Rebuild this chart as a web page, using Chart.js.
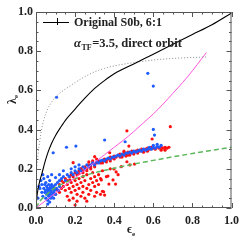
<!DOCTYPE html>
<html><head><meta charset="utf-8">
<script src="https://cdn.jsdelivr.net/npm/chart.js@4"></script>
<style>html,body{margin:0;padding:0;background:#fff}canvas{display:block}</style>
</head><body><div style="width:245px;height:245px"><canvas id="c" width="245" height="245"></canvas></div>
<script>
const xTickLabels = ["0.0","0.2","0.4","0.6","0.8","1.0"];
const yTickLabels = ["0.0","0.2","0.4","0.6","0.8","1.0"];
const legendLine1 = "Original S0b, 6:1";
const legendLine2 = ["α", "TF", "=3.5, direct orbit"];
const xTitle = ["ϵ", "e"];
const yTitle = ["λ", "e"];

const isoCurve = [[0,0],[0.005,0.06],[0.012,0.105],[0.02,0.14],[0.03,0.175],[0.046,0.235],[0.06,0.28],[0.08,0.33],[0.1,0.37],[0.125,0.41],[0.156,0.455],[0.2,0.505],[0.25,0.56],[0.3,0.61],[0.35,0.65],[0.4,0.685],[0.5,0.735],[0.6,0.785],[0.7,0.835],[0.8,0.885],[0.9,0.935],[1.0,0.995]];
const dottedCurve = [[0.003,0.2],[0.008,0.25],[0.015,0.31],[0.025,0.38],[0.04,0.45],[0.06,0.505],[0.08,0.54],[0.1,0.565],[0.12,0.585],[0.14,0.6],[0.17,0.62],[0.2,0.64],[0.25,0.67],[0.3,0.695],[0.35,0.712],[0.4,0.725],[0.5,0.742],[0.6,0.755],[0.7,0.763],[0.8,0.768],[0.87,0.77]];
const magentaCurve = [[0,0],[0.05,0.038],[0.1,0.077],[0.15,0.116],[0.2,0.155],[0.25,0.194],[0.3,0.233],[0.35,0.271],[0.4,0.31],[0.45,0.348],[0.5,0.39],[0.55,0.435],[0.6,0.48],[0.65,0.53],[0.7,0.585],[0.75,0.64],[0.8,0.7],[0.85,0.765],[0.872,0.793]];
const greenCurve = [[0,0],[0.02,0.035],[0.05,0.065],[0.1,0.105],[0.15,0.13],[0.2,0.15],[0.25,0.165],[0.3,0.18],[0.4,0.203],[0.5,0.224],[0.6,0.243],[0.7,0.261],[0.8,0.278],[0.9,0.294],[1.0,0.31]];

const bluePoints = [[0.02,0.10],[0.025,0.14],[0.03,0.08],[0.03,0.12],[0.035,0.06],[0.04,0.10],[0.04,0.15],[0.045,0.08],[0.045,0.12],[0.05,0.05],[0.05,0.09],[0.05,0.13],[0.055,0.07],[0.055,0.11],[0.06,0.04],[0.06,0.08],[0.06,0.10],[0.06,0.16],[0.065,0.06],[0.065,0.09],[0.065,0.12],[0.07,0.03],[0.07,0.07],[0.07,0.10],[0.07,0.14],[0.075,0.05],[0.075,0.08],[0.075,0.11],[0.08,0.06],[0.08,0.09],[0.08,0.12],[0.08,0.17],[0.085,0.07],[0.085,0.10],[0.09,0.05],[0.09,0.08],[0.09,0.11],[0.095,0.09],[0.10,0.07],[0.10,0.12],[0.105,0.10],[0.11,0.13],[0.115,0.09],[0.12,0.11],[0.12,0.14],[0.01,0.05],[0.015,0.11],[0.035,0.17],[0.06,0.02],[0.1,0.155],
[0.13,0.15],[0.14,0.16],[0.15,0.14],[0.16,0.17],[0.17,0.16],[0.18,0.18],[0.19,0.17],[0.2,0.19],[0.21,0.18],[0.22,0.2],[0.23,0.19],[0.24,0.21],[0.25,0.2],[0.26,0.22],[0.27,0.21],[0.28,0.22],[0.29,0.23],[0.3,0.22],[0.31,0.235],[0.32,0.23],[0.33,0.24],[0.34,0.245],[0.35,0.24],[0.36,0.25],[0.37,0.255],[0.38,0.25],[0.39,0.26],[0.4,0.26],[0.41,0.265],[0.42,0.27],[0.43,0.265],[0.44,0.275],[0.45,0.27],[0.46,0.28],[0.47,0.28],[0.48,0.285],[0.49,0.28],[0.5,0.29],[0.51,0.285],[0.52,0.29],[0.53,0.295],[0.54,0.29],[0.55,0.3],[0.56,0.295],[0.57,0.3],[0.58,0.305],[0.59,0.3],[0.6,0.31],[0.61,0.305],[0.62,0.315],[0.63,0.31],[0.64,0.32],[0.6,0.32],[0.58,0.31],[0.62,0.325],[0.14,0.19],[0.18,0.2],[0.22,0.22],[0.12,0.17],[0.2,0.21],
[0.105,0.565],[0.572,0.687],[0.6,0.622],[0.6,0.401],[0.606,0.372],[0.456,0.338],[0.351,0.347],[0.204,0.316],[0.156,0.31],[0.088,0.282]];

const redPoints = [[0.1,0.1],[0.12,0.12],[0.13,0.14],[0.14,0.13],[0.15,0.15],[0.16,0.14],[0.17,0.16],[0.18,0.17],[0.19,0.16],[0.2,0.18],[0.21,0.17],[0.22,0.19],[0.23,0.2],[0.24,0.19],[0.25,0.21],[0.26,0.2],[0.27,0.22],[0.28,0.21],[0.29,0.23],[0.3,0.22],[0.31,0.23],[0.32,0.24],[0.33,0.23],[0.34,0.24],[0.35,0.25],[0.36,0.245],[0.37,0.25],[0.38,0.26],[0.39,0.255],[0.4,0.265],[0.41,0.26],[0.42,0.27],[0.43,0.275],[0.44,0.27],[0.45,0.28],[0.46,0.275],[0.47,0.285],[0.48,0.28],[0.49,0.29],[0.5,0.285],[0.51,0.29],[0.52,0.295],[0.53,0.29],[0.54,0.3],[0.55,0.295],[0.56,0.3],[0.57,0.305],[0.58,0.3],[0.59,0.31],[0.6,0.305],[0.61,0.3],[0.62,0.31],[0.63,0.305],[0.64,0.31],[0.65,0.305],[0.66,0.31],[0.67,0.305],[0.68,0.31],[0.66,0.295],[0.64,0.295],
[0.44,0.26],[0.46,0.265],[0.48,0.27],[0.5,0.275],[0.52,0.28],[0.55,0.285],[0.57,0.29],[0.45,0.29],[0.47,0.27],[0.43,0.26],[0.4,0.25],[0.38,0.24],[0.36,0.235],[0.34,0.23],[0.3,0.21],[0.28,0.2],[0.26,0.19],[0.24,0.18],[0.22,0.175],[0.29,0.24],[0.31,0.25],[0.27,0.235],
[0.1,0.07],[0.11,0.09],[0.12,0.08],[0.13,0.1],[0.14,0.11],[0.15,0.09],[0.16,0.12],[0.16,0.06],[0.17,0.1],[0.17,0.04],[0.18,0.13],[0.18,0.08],[0.19,0.11],[0.19,0.05],[0.2,0.015],[0.2,0.09],[0.2,0.14],[0.21,0.12],[0.21,0.07],[0.22,0.1],[0.22,0.15],[0.23,0.06],[0.23,0.13],[0.24,0.11],[0.24,0.08],[0.24,0.16],[0.25,0.05],[0.25,0.14],[0.26,0.1],[0.26,0.17],[0.27,0.12],[0.27,0.07],[0.28,0.15],[0.28,0.09],[0.29,0.13],[0.29,0.18],[0.3,0.11],[0.3,0.16],[0.31,0.14],[0.31,0.08],[0.32,0.17],[0.32,0.12],[0.33,0.07],[0.33,0.15],[0.334,0.143],[0.34,0.085],[0.34,0.19],[0.346,0.083],[0.351,0.066],[0.36,0.16],[0.368,0.163],[0.373,0.122],[0.38,0.2],[0.394,0.143],[0.399,0.199],[0.407,0.122],[0.41,0.184],[0.42,0.17],[0.436,0.211],[0.465,0.236],[0.504,0.224],[0.48,0.22],[0.26,0.035],[0.21,0.035],[0.3,0.06],[0.23,0.2],[0.19,0.231],[0.3,0.262],[0.173,0.143],
[0.687,0.415],[0.465,0.394],[0.594,0.352],[0.475,0.316],[0.377,0.282]];

const toXY = a => a.map(p => ({x:p[0], y:p[1]}));
const FONT = "'Liberation Serif', 'DejaVu Serif', serif";
const TXT = '#222';

function fitSize(ctx, text, target, style) {
  ctx.font = style + ' 12px ' + FONT;
  return 12 * target / ctx.measureText(text).width;
}

const idlPlugin = {
  id: 'idl',
  afterDraw(chart) {
    const {ctx, chartArea:a, scales:{x, y}} = chart;
    ctx.save();
    ctx.strokeStyle = '#555';
    ctx.lineWidth = 1;
    ctx.strokeRect(a.left + 0.5, a.top + 0.5, a.right - a.left - 1, a.bottom - a.top - 1);
    ctx.beginPath();
    for (let i = 0; i <= 20; i++) {
      const v = i * 0.05;
      const major = i % 4 === 0;
      const L = major ? 5 : 2.5;
      const px = Math.round(x.getPixelForValue(v)) + 0.5;
      ctx.moveTo(px, a.bottom); ctx.lineTo(px, a.bottom - L);
      ctx.moveTo(px, a.top); ctx.lineTo(px, a.top + L);
      const py = Math.round(y.getPixelForValue(v)) + 0.5;
      ctx.moveTo(a.left, py); ctx.lineTo(a.left + L, py);
      ctx.moveTo(a.right, py); ctx.lineTo(a.right - L, py);
    }
    ctx.stroke();

    // legend
    ctx.strokeStyle = '#000';
    ctx.beginPath();
    ctx.moveTo(43, 22.5); ctx.lineTo(69, 22.5);
    ctx.moveTo(57.5, 18); ctx.lineTo(57.5, 25);
    ctx.stroke();
    ctx.fillStyle = TXT;
    ctx.textBaseline = 'middle';
    ctx.textAlign = 'left';
    const s1 = fitSize(ctx, legendLine1, 88, 'bold');
    ctx.font = 'bold ' + s1.toFixed(2) + 'px ' + FONT;
    ctx.fillText(legendLine1, 74, 23);
    let cx = 74;
    ctx.font = 'italic bold 12.5px ' + FONT;
    ctx.fillText(legendLine2[0], cx, 44);
    cx += ctx.measureText(legendLine2[0]).width + 0.5;
    ctx.font = 'bold 8px ' + FONT;
    ctx.fillText(legendLine2[1], cx, 47.5);
    cx += ctx.measureText(legendLine2[1]).width + 0.5;
    const s2 = fitSize(ctx, legendLine2[2], 182 - cx, 'bold');
    ctx.font = 'bold ' + s2.toFixed(2) + 'px ' + FONT;
    ctx.fillText(legendLine2[2], cx, 44);

    // x title
    ctx.font = 'bold 12px ' + FONT;
    ctx.fillText(xTitle[0], 127, 230);
    const w = ctx.measureText(xTitle[0]).width;
    ctx.font = 'bold 7px ' + FONT;
    ctx.fillText(xTitle[1], 127 + w, 234);

    // y title
    ctx.translate(13, 104);
    ctx.rotate(-Math.PI / 2);
    ctx.font = 'bold 12px ' + FONT;
    ctx.fillText(yTitle[0], 0, 0);
    const w2 = ctx.measureText(yTitle[0]).width;
    ctx.font = 'bold 7px ' + FONT;
    ctx.fillText(yTitle[1], w2, 3);
    ctx.restore();
  }
};

new Chart(document.getElementById('c'), {
  type: 'scatter',
  data: {
    datasets: [
      {type:'line', data: toXY(isoCurve), borderColor:'#000', borderWidth:1.1, pointRadius:0, fill:false, cubicInterpolationMode:'monotone', order:1},
      {type:'line', data: toXY(dottedCurve), borderColor:'#8a8a8a', borderWidth:1, borderDash:[1,2], pointRadius:0, fill:false, cubicInterpolationMode:'monotone', order:1},
      {type:'line', data: toXY(magentaCurve), borderColor:'#ff55dd', borderWidth:1, pointRadius:0, fill:false, cubicInterpolationMode:'monotone', order:1},
      {type:'line', data: toXY(greenCurve), borderColor:'#5cb85c', borderWidth:1.5, borderDash:[5,3], pointRadius:0, fill:false, cubicInterpolationMode:'monotone', order:1},
      {data: toXY(redPoints), backgroundColor:'#ff1010', borderWidth:0, pointRadius:1.6, pointStyle:'circle', order:3},
      {data: toXY(bluePoints), backgroundColor:'#1f5cff', borderWidth:0, pointRadius:1.6, pointStyle:'circle', order:2}
    ]
  },
  options: {
    responsive: false,
    animation: false,
    events: [],
    layout: {padding: {top: 12, right: 12, left: 0, bottom: 0}},
    plugins: {legend: {display:false}, tooltip: {enabled:false}},
    scales: {
      x: {
        type:'linear', min:0, max:1,
        afterFit(s){ s.height = 37; },
        grid: {display:false, drawTicks:false},
        border: {display:false},
        ticks: {stepSize:0.2, padding:6, color:TXT, font:{family:FONT, size:12, weight:'bold'},
          callback:(v,i)=>xTickLabels[i] ?? ''}
      },
      y: {
        type:'linear', min:0, max:1,
        afterFit(s){ s.width = 36; },
        grid: {display:false, drawTicks:false},
        border: {display:false},
        ticks: {stepSize:0.2, padding:3, color:TXT, font:{family:FONT, size:12, weight:'bold'},
          callback:(v,i)=>yTickLabels[i] ?? ''}
      }
    }
  },
  plugins: [idlPlugin]
});
</script>
</body></html>
